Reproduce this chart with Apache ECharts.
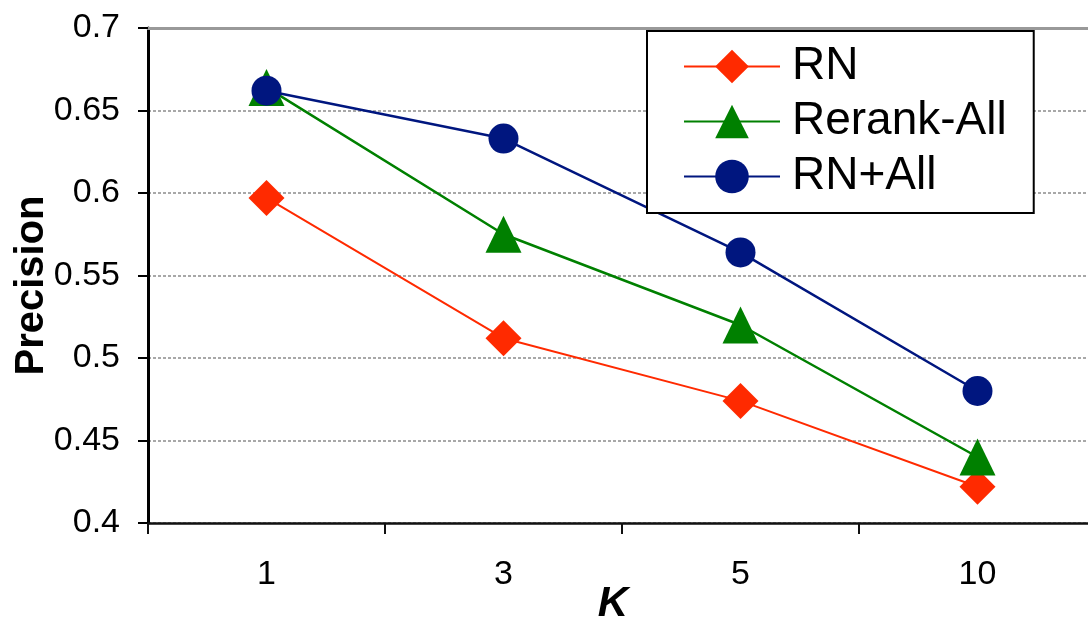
<!DOCTYPE html>
<html>
<head>
<meta charset="utf-8">
<script src="https://cdn.jsdelivr.net/npm/echarts@6/dist/echarts.min.js"></script>
<style>
html,body{margin:0;padding:0;background:#fff;}
#chart{width:1088px;height:623px;}
</style>
</head>
<body>
<div id="chart"></div>
<script>
const categories = ['1', '3', '5', '10'];
const seriesNames = ['RN', 'Rerank-All', 'RN+All'];
const rn = [0.597, 0.512, 0.474, 0.422];
const rerankAll = [0.664, 0.575, 0.520, 0.440];
const rnAll = [0.662, 0.633, 0.564, 0.480];
const yMin = 0.4, yMax = 0.7, yStep = 0.05;

const FONT = '"Liberation Sans", Arial, sans-serif';
const chart = echarts.init(document.getElementById('chart'), null, {renderer: 'canvas'});
chart.setOption({
  animation: false,
  backgroundColor: '#fff',
  textStyle: {fontFamily: FONT, color: '#000'},
  grid: {left: 148, top: 28, width: 948, height: 495, containLabel: false, outerBoundsMode: 'none'},
  legend: {
    left: 647, top: 31,
    orient: 'vertical',
    data: seriesNames,
    backgroundColor: '#fff',
    borderColor: '#000',
    borderWidth: 2,
    borderRadius: 0,
    padding: [8, 27, 9, 36],
    itemWidth: 96,
    itemHeight: 42,
    itemGap: 0,
    textStyle: {fontFamily: FONT, fontSize: 46, color: '#000', lineHeight: 55, padding: [0, 0, 0, 7]},
    selectedMode: false
  },
  xAxis: [{
    type: 'category',
    data: categories,
    boundaryGap: true,
    name: 'K',
    nameLocation: 'middle',
    nameGap: 60,
    nameMoveOverlap: false,
    nameTextStyle: {fontFamily: FONT, fontSize: 42, fontWeight: 'bold', fontStyle: 'italic', color: '#000', padding: [0, 18, 0, 0]},
    axisLine: {show: true, onZero: false, lineStyle: {color: '#111', width: 2.5}},
    axisTick: {show: true, inside: false, length: 11, alignWithLabel: false, lineStyle: {color: '#111', width: 2}},
    axisLabel: {fontFamily: FONT, fontSize: 34, color: '#000', margin: 35},
    splitLine: {show: false}
  }, {
    type: 'category',
    data: categories,
    position: 'top',
    axisLine: {show: true, onZero: false, lineStyle: {color: '#999', width: 3}},
    axisTick: {show: false},
    axisLabel: {show: false},
    splitLine: {show: false}
  }],
  yAxis: {
    type: 'value',
    min: yMin, max: yMax, interval: yStep,
    name: 'Precision',
    nameLocation: 'middle',
    nameGap: 96,
    nameMoveOverlap: false,
    nameTextStyle: {fontFamily: FONT, fontSize: 40, fontWeight: 'bold', color: '#000', padding: [0, 20, 0, 0]},
    axisLine: {show: true, lineStyle: {color: '#000', width: 3}},
    axisTick: {show: true, inside: false, length: 10, lineStyle: {color: '#000', width: 2}},
    axisLabel: {fontFamily: FONT, fontSize: 34, color: '#000', margin: 28,
      formatter: v => String(Math.round(v * 100) / 100)},
    splitLine: {show: true, lineStyle: {color: '#a8a8a8', width: 2, type: [3, 2]}}
  },
  series: [{
    name: 'RN', type: 'line', data: rn,
    symbol: 'diamond', symbolSize: 36,
    lineStyle: {color: '#ff2a00', width: 2},
    itemStyle: {color: '#ff2a00'}
  }, {
    name: 'Rerank-All', type: 'line', data: rerankAll,
    symbol: 'triangle', symbolSize: [36, 37],
    lineStyle: {color: '#008000', width: 2.5},
    itemStyle: {color: '#008000'}
  }, {
    name: 'RN+All', type: 'line', data: rnAll,
    symbol: 'circle', symbolSize: 30,
    lineStyle: {color: '#00167f', width: 2.5},
    itemStyle: {color: '#00167f'}
  }]
});
</script>
</body>
</html>
